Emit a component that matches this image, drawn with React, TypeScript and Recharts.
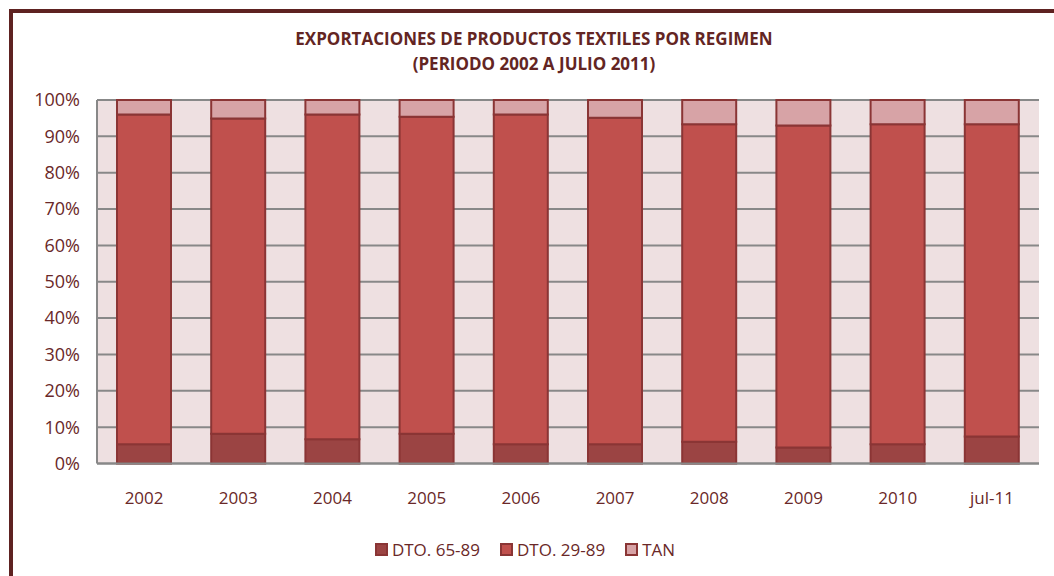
import React from "react";
import { BarChart, Bar, XAxis, YAxis, CartesianGrid, Legend } from "recharts";

const categories = ["2002", "2003", "2004", "2005", "2006", "2007", "2008", "2009", "2010", "jul-11"];
const dto6589 = [5.3, 8.2, 6.7, 8.2, 5.3, 5.3, 6.0, 4.4, 5.3, 7.4];
const dto2989 = [90.7, 86.7, 89.3, 87.2, 90.7, 89.8, 87.3, 88.6, 88.0, 85.9];
const tan = [4.0, 5.1, 4.0, 4.6, 4.0, 4.9, 6.7, 7.0, 6.7, 6.7];
const yTicks = [0, 10, 20, 30, 40, 50, 60, 70, 80, 90, 100];

const seriesNames = ["DTO. 65-89", "DTO. 29-89", "TAN"];
const colors = ["#9B4443", "#C0504D", "#D7A3A6"];
const barStroke = "#8A3535";
const textColor = "#6A2828";
const FONT = "'Open Sans', 'Noto Sans', sans-serif";

const data = categories.map((c, i) => ({
  name: c,
  d65: dto6589[i],
  d29: dto2989[i],
  tan: tan[i],
}));

const LegendContent = () => (
  <div
    style={{
      display: "flex",
      justifyContent: "center",
      alignItems: "center",
      fontFamily: FONT,
      fontSize: 17,
      color: textColor,
      paddingLeft: 30,
      height: 24,
    }}
  >
    {seriesNames.map((n, i) => (
      <div key={n} style={{ display: "flex", alignItems: "center", marginRight: 20 }}>
        <span
          style={{
            display: "inline-block",
            width: 9,
            height: 9,
            background: colors[i],
            border: `2px solid ${barStroke}`,
            marginRight: 4,
          }}
        />
        <span>{n}</span>
      </div>
    ))}
  </div>
);

export default function App() {
  return (
    <div
      style={{
        position: "absolute",
        left: 0,
        top: 0,
        width: 1054,
        height: 576,
        overflow: "hidden",
        background: "#ffffff",
      }}
    >
      <div
        style={{
          position: "absolute",
          left: 9,
          top: 9,
          width: 1200,
          height: 700,
          border: "4px solid #5E2221",
          boxSizing: "border-box",
        }}
      />
      <div
        style={{
          position: "absolute",
          left: 0,
          top: 26,
          width: 1068,
          textAlign: "center",
          fontFamily: FONT,
          fontWeight: 700,
          fontSize: 17,
          lineHeight: "25px",
          color: "#632523",
        }}
      >
        <div>EXPORTACIONES DE PRODUCTOS TEXTILES POR REGIMEN</div>
        <div>(PERIODO 2002 A JULIO 2011)</div>
      </div>
      <div style={{ position: "absolute", left: 0, top: 0 }}>
        <BarChart
          width={1054}
          height={576}
          data={data}
          margin={{ top: 100, right: 15, bottom: 38.5, left: 1 }}
          barSize={54}
        >
          <CartesianGrid
            vertical={false}
            stroke="#888888"
            strokeWidth={2}
            fill="#EEE0E1"
            fillOpacity={1}
          />
          <XAxis
            dataKey="name"
            axisLine={{ stroke: "#888888", strokeWidth: 2 }}
            tickLine={false}
            tickSize={0}
            tickMargin={28}
            height={50}
            tick={{ fill: textColor, fontSize: 17, fontFamily: FONT }}
          />
          <YAxis
            domain={[0, 100]}
            ticks={yTicks}
            interval={0}
            width={96}
            axisLine={{ stroke: "#888888", strokeWidth: 2 }}
            tickLine={false}
            tickSize={0}
            tickMargin={17}
            tickFormatter={(v: number) => `${v}%`}
            tick={{ fill: textColor, fontSize: 18, fontFamily: FONT }}
          />
          <Legend
            verticalAlign="bottom"
            content={<LegendContent />}
            wrapperStyle={{ height: 24, top: 537, bottom: "auto" }}
          />
          <Bar dataKey="d65" name={seriesNames[0]} stackId="a" fill={colors[0]} stroke={barStroke} strokeWidth={2} isAnimationActive={false} />
          <Bar dataKey="d29" name={seriesNames[1]} stackId="a" fill={colors[1]} stroke={barStroke} strokeWidth={2} isAnimationActive={false} />
          <Bar dataKey="tan" name={seriesNames[2]} stackId="a" fill={colors[2]} stroke={barStroke} strokeWidth={2} isAnimationActive={false} />
        </BarChart>
      </div>
    </div>
  );
}
